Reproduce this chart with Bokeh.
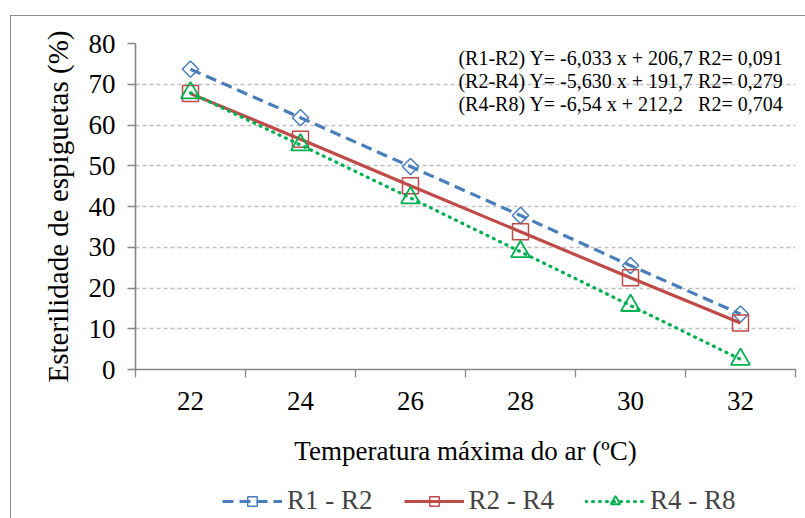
import math
from bokeh.plotting import figure
from bokeh.layouts import column
from bokeh.models import FixedTicker, Legend, LegendItem, Label, Range1d
from bokeh.embed import file_html
from bokeh.resources import INLINE

# ---- data ----
temps = [22, 24, 26, 28, 30, 32]
r1_r2 = [73.7, 61.8, 49.8, 37.8, 25.5, 13.6]
r2_r4 = [67.7, 56.5, 45.1, 33.8, 22.5, 11.4]
r4_r8 = [67.9, 55.1, 42.1, 28.9, 15.7, 2.5]
series_names = ["R1 - R2", "R2 - R4", "R4 - R8"]
equations = [
    "(R1-R2) Y= -6,033 x + 206,7 R2= 0,091",
    "(R2-R4) Y= -5,630 x + 191,7 R2= 0,279",
    "(R4-R8) Y= -6,54 x + 212,2\u00a0\u00a0\u00a0R2= 0,704",
]
y_ticks = [0, 10, 20, 30, 40, 50, 60, 70, 80]
x_title = "Temperatura máxima do ar (ºC)"
y_title = "Esterilidade de espiguetas (%)"

FONT = "Liberation Serif"
BLUE = "#4a7ebb"
RED = "#be4b48"
GREEN = "#00b050"
AXIS = "#868686"

STYLE = [
    dict(line_color=BLUE, line_width=3.2, line_dash="11 6"),
    dict(line_color=RED, line_width=3.2),
    dict(line_color=GREEN, line_width=3.2, line_dash="1 6", line_cap="round"),
]
MARK = [
    dict(marker="square", angle=math.pi / 4, size=11.5, line_color=BLUE, fill_alpha=0, line_width=1.5),
    dict(marker="square", size=16, line_color=RED, fill_alpha=0, line_width=1.5),
    dict(marker="triangle", size=19, line_color=GREEN, fill_alpha=0, line_width=1.8),
]
series_values = [r1_r2, r2_r4, r4_r8]

p = figure(frame_width=660, frame_height=326, x_range=Range1d(21, 33), y_range=Range1d(0, 80),
           output_backend="svg", toolbar_location=None,
           min_border_left=124, min_border_right=10, min_border_top=27, min_border_bottom=115)
p.outline_line_color = None
p.background_fill_color = "white"
p.border_fill_alpha = 0

p.xgrid.visible = False
p.ygrid.grid_line_color = "#c0c0c0"
p.ygrid.grid_line_dash = "4 3"
p.ygrid.grid_line_width = 1.3

# y axis
p.yaxis.ticker = FixedTicker(ticks=y_ticks)
p.yaxis.axis_line_color = AXIS
p.yaxis.axis_line_width = 1.6
p.yaxis.major_tick_line_color = AXIS
p.yaxis.major_tick_line_width = 1.3
p.yaxis.major_tick_out = 8
p.yaxis.major_tick_in = 0
p.yaxis.minor_tick_out = 0
p.yaxis.minor_tick_in = 0
p.yaxis.major_label_standoff = 12
p.yaxis.axis_label = y_title
p.yaxis.axis_label_standoff = 12

# x axis: labels at centers, ticks at category boundaries
boundaries = [t - 1 for t in temps] + [temps[-1] + 1]
p.xaxis.ticker = FixedTicker(ticks=temps, minor_ticks=boundaries)
p.xaxis.axis_line_color = AXIS
p.xaxis.axis_line_width = 1.6
p.xaxis.major_tick_out = 0
p.xaxis.major_tick_in = 0
p.xaxis.minor_tick_out = 8
p.xaxis.minor_tick_in = 0
p.xaxis.minor_tick_line_color = AXIS
p.xaxis.minor_tick_line_width = 1.3
p.xaxis.major_label_standoff = 14
p.xaxis.axis_label = x_title
p.xaxis.axis_label_standoff = 23

for ax in (p.xaxis, p.yaxis):
    ax.major_label_text_font = FONT
    ax.major_label_text_font_size = "27px"
    ax.major_label_text_color = "black"
    ax.axis_label_text_font = FONT
    ax.axis_label_text_font_size = "27px"
    ax.axis_label_text_font_style = "normal"
    ax.axis_label_text_color = "black"
p.yaxis.axis_label_text_font_size = "29px"

# series
for vals, ls, ms in zip(series_values, STYLE, MARK):
    p.line(temps, vals, **ls)
    p.scatter(temps, vals, **ms)

ys = [76.5, 70.8, 65.2]
for eq, yv in zip(equations, ys):
    p.add_layout(Label(x=32.78, y=yv, text=eq, text_align="right", text_baseline="middle",
                       text_font=FONT, text_font_size="20px", text_color="black"))

# legend strip below the chart (its own small canvas so that nothing is clipped);
# its renderers reuse the series data but lie outside this strip's ranges (invisible)
pl = figure(width=794, height=34, x_range=Range1d(0, 1), y_range=Range1d(0, 1),
            x_axis_type=None, y_axis_type=None, output_backend="svg", toolbar_location=None,
            min_border=0)
pl.outline_line_color = None
pl.background_fill_alpha = 0
pl.border_fill_alpha = 0
pl.grid.visible = False
items = []
for name, vals, ls, ms in zip(series_names, series_values, STYLE, MARK):
    rl = pl.line(temps, vals, **ls)
    rm = pl.scatter(temps, vals, **ms)
    items.append(LegendItem(label=name, renderers=[rl, rm]))
legend = Legend(items=items, orientation="horizontal", location=(87, 2),
                border_line_color=None, background_fill_alpha=0,
                label_text_font=FONT, label_text_font_size="27px",
                glyph_width=60, glyph_height=24, spacing=31, padding=0, margin=0,
                label_standoff=5)
pl.add_layout(legend)

layout = column(p, pl, spacing=0)
layout.margin = (15, 0, 0, 10)
layout.styles = {"border-left": "1px solid #8c8c8c", "border-top": "1px solid #8c8c8c"}

open("out.html", "w").write(file_html(layout, INLINE))
